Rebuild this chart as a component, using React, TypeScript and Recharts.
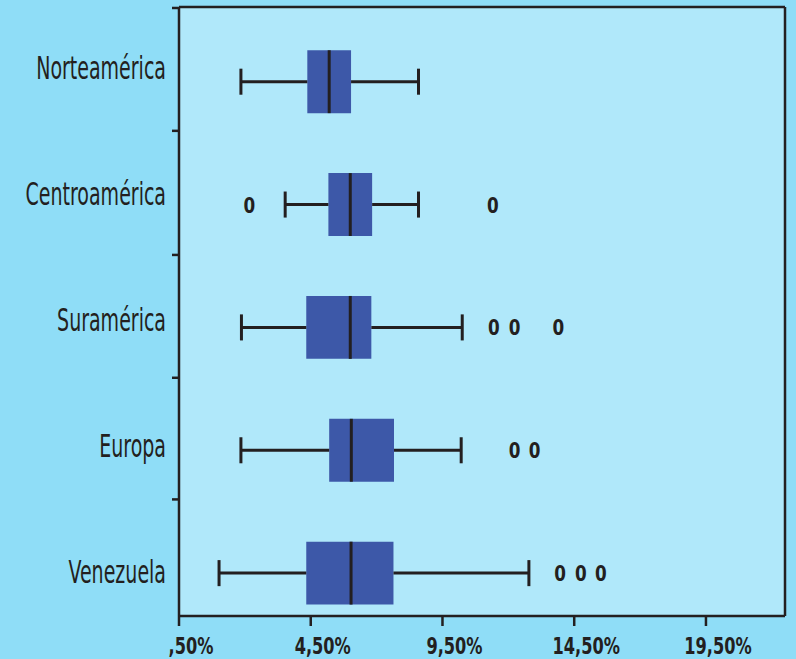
import {
  CartesianGrid,
  ComposedChart,
  ReferenceArea,
  ReferenceLine,
  Scatter,
  XAxis,
  YAxis,
} from 'recharts';

// box plot values (%), one entry per region, top to bottom
const regions = ['Norteamérica', 'Centroamérica', 'Suramérica', 'Europa', 'Venezuela'];
const whiskerLow = [1.85, 3.53, 1.87, 1.85, 1.02];
const q1 = [4.37, 5.17, 4.33, 5.2, 4.33];
const median = [5.2, 6.0, 6.0, 6.04, 6.03];
const q3 = [6.03, 6.83, 6.8, 7.66, 7.64];
const whiskerHigh = [8.59, 8.59, 10.25, 10.21, 12.78];
const outlierValues = [[], [2.17, 11.41], [11.45, 12.24, 13.9], [12.24, 13.0], [13.96, 14.75, 15.51]];

const xTicks = [-0.5, 4.5, 9.5, 14.5, 19.5];
const xTickLabels = [',50%', '4,50%', '9,50%', '14,50%', '19,50%'];
const rowTicks = [-0.6, 0.4, 1.41, 2.41, 3.4];
const labelTicks = [0, 1, 2, 3, 4];

const outliers = outlierValues.flatMap((vals, row) => vals.map((value) => ({ value, row })));

const OUTER_BG = '#8fddf7';
const PLOT_BG = '#b0e8fa';
const BOX_FILL = '#3d58a8';
const INK = '#231f20';
const FONT = "'DejaVu Sans Condensed', 'DejaVu Sans', sans-serif";

const BOX_HALF = 0.256;
const CAP_HALF = 0.106;

function RegionTick({ x, y, payload }: any) {
  return (
    <g transform={`translate(${x},${y})`}>
      <text transform="scale(0.66,1)" textAnchor="end" dy={11} fontSize={32} fontFamily={FONT} fill={INK}>
        {regions[payload.value]}
      </text>
    </g>
  );
}

function PercentTick({ x, y, payload }: any) {
  return (
    <g transform={`translate(${x + 12},${y})`}>
      <text
        transform="scale(0.8,1)"
        textAnchor="middle"
        dy="0.71em"
        fontSize={22.5}
        fontWeight="bold"
        fontFamily={FONT}
        fill={INK}
      >
        {xTickLabels[xTicks.indexOf(payload.value)]}
      </text>
    </g>
  );
}

function OutlierMark({ cx, cy }: any) {
  return (
    <text
      x={cx}
      y={cy}
      dy={8}
      transform={`translate(${cx},0) scale(0.85,1) translate(${-cx},0)`}
      textAnchor="middle"
      fontSize={22}
      fontWeight="bold"
      fontFamily={FONT}
      fill={INK}
    >
      0
    </text>
  );
}

const NoLabel = () => <g />;

export default function App() {
  const axisStroke = { stroke: INK, strokeWidth: 2.5 };
  return (
    <div style={{ position: 'absolute', left: 0, top: 0, width: 796, height: 659, background: OUTER_BG }}>
      <ComposedChart width={796} height={659} margin={{ top: 6, right: 10, bottom: 0, left: 0 }}>
        <CartesianGrid fill={PLOT_BG} fillOpacity={1} horizontal={false} vertical={false} />
        <XAxis
          type="number"
          dataKey="value"
          domain={[-0.5, 22.5]}
          allowDataOverflow
          ticks={xTicks}
          interval={0}
          height={43}
          tickSize={10}
          tickMargin={12}
          axisLine={axisStroke}
          tickLine={axisStroke}
          tick={<PercentTick />}
        />
        <XAxis
          xAxisId="top"
          orientation="top"
          type="number"
          domain={[0, 1]}
          height={1}
          tick={false}
          tickLine={false}
          axisLine={axisStroke}
        />
        <YAxis
          type="number"
          dataKey="row"
          reversed
          domain={[-0.608, 4.349]}
          allowDataOverflow
          ticks={rowTicks}
          interval={0}
          width={1}
          tickSize={7}
          tick={<NoLabel />}
          tickLine={axisStroke}
          axisLine={axisStroke}
        />
        <YAxis
          yAxisId="labels"
          type="number"
          reversed
          domain={[-0.48, 4.347]}
          allowDataOverflow
          ticks={labelTicks}
          interval={0}
          width={178}
          tickSize={0}
          tickMargin={12}
          tickLine={false}
          axisLine={false}
          tick={<RegionTick />}
        />
        <YAxis
          yAxisId="frame"
          orientation="right"
          type="number"
          domain={[0, 1]}
          width={1}
          tick={false}
          tickLine={false}
          axisLine={axisStroke}
        />

        {regions.map((r, i) => (
          <ReferenceArea
            key={`box-${r}`}
            x1={q1[i]}
            x2={q3[i]}
            y1={i - BOX_HALF}
            y2={i + BOX_HALF}
            fill={BOX_FILL}
            fillOpacity={1}
            stroke="none"
            ifOverflow="visible"
          />
        ))}

        {regions.map((r, i) => [
          <ReferenceLine
            key={`wl-${r}`}
            segment={[{ x: whiskerLow[i], y: i }, { x: q1[i], y: i }]}
            stroke={INK}
            strokeWidth={3}
            ifOverflow="visible"
          />,
          <ReferenceLine
            key={`wh-${r}`}
            segment={[{ x: q3[i], y: i }, { x: whiskerHigh[i], y: i }]}
            stroke={INK}
            strokeWidth={3}
            ifOverflow="visible"
          />,
          <ReferenceLine
            key={`cl-${r}`}
            segment={[{ x: whiskerLow[i], y: i - CAP_HALF }, { x: whiskerLow[i], y: i + CAP_HALF }]}
            stroke={INK}
            strokeWidth={3}
            ifOverflow="visible"
          />,
          <ReferenceLine
            key={`ch-${r}`}
            segment={[{ x: whiskerHigh[i], y: i - CAP_HALF }, { x: whiskerHigh[i], y: i + CAP_HALF }]}
            stroke={INK}
            strokeWidth={3}
            ifOverflow="visible"
          />,
          <ReferenceLine
            key={`md-${r}`}
            segment={[{ x: median[i], y: i - BOX_HALF }, { x: median[i], y: i + BOX_HALF }]}
            stroke={INK}
            strokeWidth={3}
            ifOverflow="visible"
          />,
        ])}

        <Scatter data={outliers} dataKey="value" shape={<OutlierMark />} isAnimationActive={false} />
      </ComposedChart>
    </div>
  );
}
